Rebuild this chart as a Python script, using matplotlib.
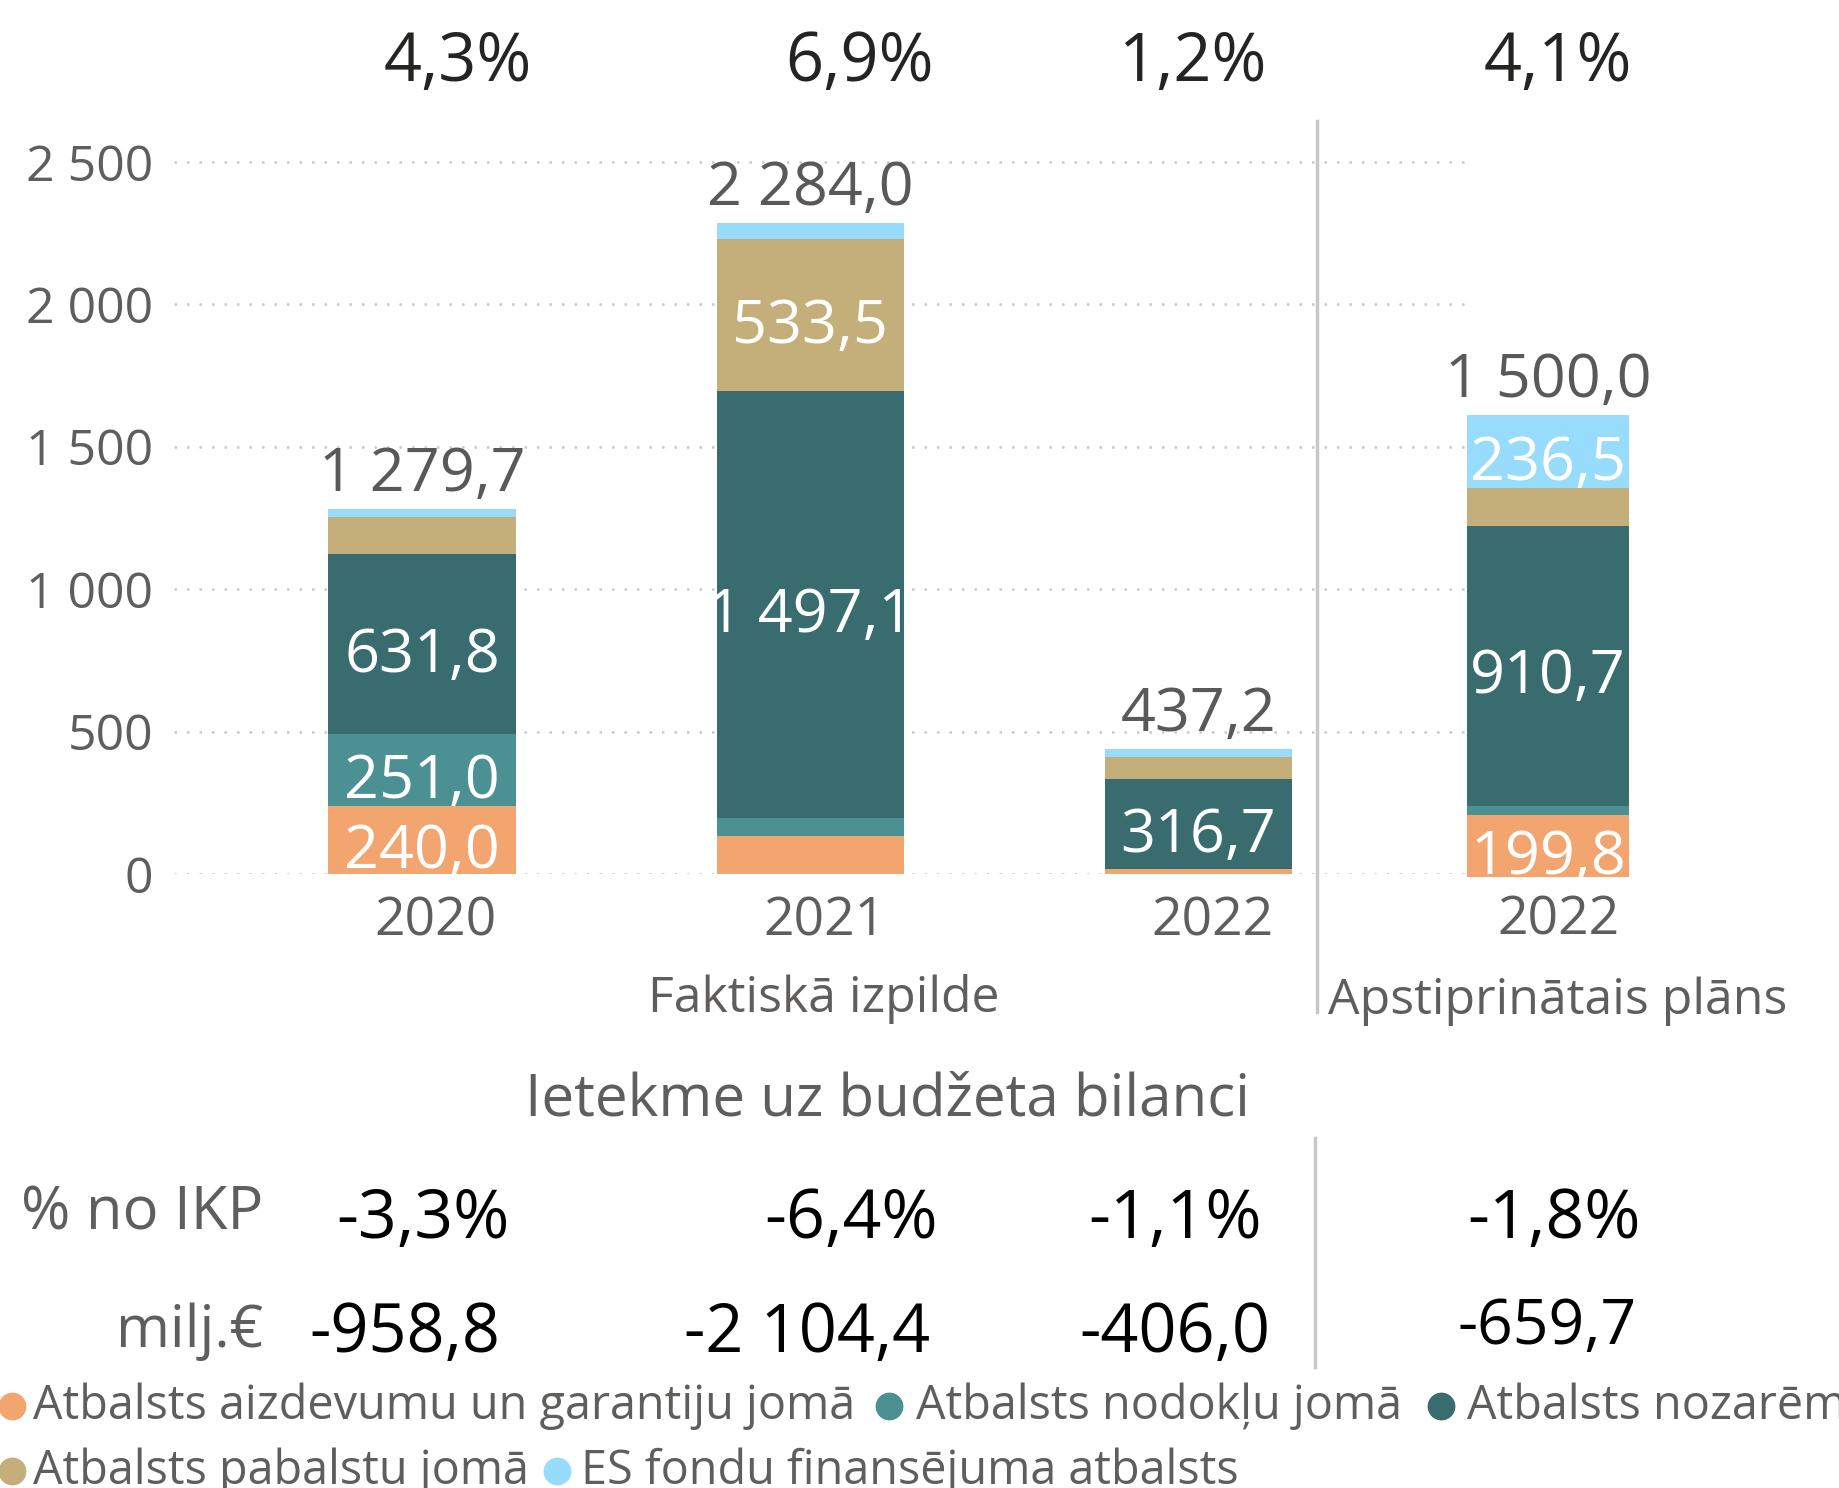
import matplotlib
matplotlib.use("Agg")
import matplotlib.pyplot as plt

plt.rcParams['font.family'] = ['Open Sans', 'DejaVu Sans']

# data
years = ['2020', '2021', '2022']
plan_year = '2022'
series = ['Atbalsts aizdevumu un garantiju jomā', 'Atbalsts nodokļu jomā',
          'Atbalsts nozarēm', 'Atbalsts pabalstu jomā', 'ES fondu finansējuma atbalsts']
colors = ['#F3A56F', '#4B9194', '#386C6E', '#C4AF7B', '#97DCFC']

loans = [240.0, 135.0, 16.5]
taxes = [251.0, 62.0, 1.0]
sectors = [631.8, 1497.1, 316.7]
benefits = [128.9, 533.5, 77.0]
eu_funds = [28.0, 56.4, 26.0]
totals = [1279.7, 2284.0, 437.2]

plan_values = [199.8, 31.0, 910.7, 122.0, 236.5]
plan_total = 1500.0

gdp_share = [4.3, 6.9, 1.2, 4.1]
balance_pct = [-3.3, -6.4, -1.1, -1.8]
balance_eur = [-958.8, -2104.4, -406.0, -659.7]
yticks = [0, 500, 1000, 1500, 2000, 2500]


def fmt(v, d=1):
    return f"{v:,.{d}f}".replace(",", " ").replace(".", ",")


W, H = 1840, 1488
def fa(l, t, r, b):
    return [l / W, 1 - b / H, (r - l) / W, (b - t) / H]

fig = plt.figure(figsize=(W / 100, H / 100), dpi=100)
fig.patch.set_facecolor('white')

GRAY = '#605E5C'
DARK = '#252423'

# actual execution bars
ax = fig.add_axes(fa(174, 120, 1467, 874))
x = [0, 1, 2]
bw = 0.484
bottom = [0, 0, 0]
for vals, c in zip([loans, taxes, sectors, benefits, eu_funds], colors):
    ax.bar(x, vals, bw, bottom=bottom, color=c, zorder=2)
    for i, v in enumerate(vals):
        if v > 150:
            ax.annotate(fmt(v), (x[i], bottom[i] + v / 2), xytext=(0, -8.5),
                        textcoords='offset points', ha='center', va='center',
                        color='white', fontsize=44, annotation_clip=False,
                        clip_on=True, zorder=3)
    bottom = [b + v for b, v in zip(bottom, vals)]
for i, t in enumerate(totals):
    ax.annotate(fmt(t), (x[i], t), xytext=(0, 25), textcoords='offset points',
                ha='center', va='center', color='#595959', fontsize=44)

ax.set_xlim(-0.64, 2.692)
ax.set_ylim(0, 2647)
ax.set_yticks(yticks)
ax.set_yticklabels([fmt(v, 0) for v in yticks], color=GRAY, fontsize=36)
ax.set_xticks([i + 0.035 for i in x])
ax.set_xticklabels(years, color=GRAY, fontsize=38.5)
ax.tick_params(length=0)
ax.tick_params(axis='y', pad=15)
ax.tick_params(axis='x', pad=15)
ax.grid(axis='y', color='#C8C8C8', linestyle=(0, (1, 4)), linewidth=1.8)
ax.set_axisbelow(True)
for s in ax.spines.values():
    s.set_visible(False)
ax.patch.set_alpha(0)

# approved plan bar (own scale)
ax2 = fig.add_axes(fa(1330, 120, 1766, 876.6))
ax2.set_xlim(-1, 1)
ax2.set_ylim(0, 2461)
b = 0
for v, c in zip(plan_values, colors):
    ax2.bar([0], [v], 0.743, bottom=b, color=c)
    if v > 150:
        ax2.annotate(fmt(v), (0, b + v / 2), xytext=(0, -8.5),
                     textcoords='offset points', ha='center', va='center',
                     color='white', fontsize=44, annotation_clip=False, clip_on=True)
    b += v
ax2.annotate(fmt(plan_total), (0, b), xytext=(0, 25), textcoords='offset points',
             ha='center', va='center', color='#595959', fontsize=44)
ax2.axis('off')

# overlay in pixel coordinates for the rest
ov = fig.add_axes([0, 0, 1, 1])
ov.set_xlim(0, W)
ov.set_ylim(H, 0)
ov.axis('off')

ov.plot([1317, 1317], [121, 1012], color='#C8C8C8', lw=2.5)
ov.plot([1315, 1315], [1138, 1367], color='#C8C8C8', lw=2.5)

for xp, v in zip([458, 860, 1192, 1558], gdp_share):
    ov.text(xp, 63, fmt(v) + '%', ha='center', va='center', fontsize=48, color=DARK)

ov.text(1558, 921, plan_year, ha='center', va='center', fontsize=38.5, color=GRAY)
ov.text(824, 999, 'Faktiskā izpilde', ha='center', va='center', fontsize=36, color=GRAY)
ov.text(1558, 1001, 'Apstiprinātais plāns', ha='center', va='center', fontsize=36, color=GRAY)

ov.text(888, 1100, 'Ietekme uz budžeta bilanci', ha='center', va='center', fontsize=42, color=GRAY)
ov.text(263, 1214, '% no IKP', ha='right', va='center', fontsize=43, color=GRAY)
ov.text(263, 1332, 'milj.€', ha='right', va='center', fontsize=42, color=GRAY)
for xp, v in zip([423, 851, 1175, 1554], balance_pct):
    ov.text(xp, 1220, fmt(v) + '%', ha='center', va='center', fontsize=49, color='black')
for xp, v, fs in zip([405, 807, 1175, 1547], balance_eur, [48, 48, 48, 45]):
    ov.text(xp, 1334 if fs == 48 else 1328, fmt(v), ha='center', va='center',
            fontsize=fs, color='black')

# legend
leg_pos = [(12, 33, 1406), (889, 916, 1406), (1441, 1467, 1406), (12, 33, 1471), (557, 581, 1471)]
for (mx, tx, ly), name, c in zip(leg_pos, series, colors):
    ov.plot(mx, ly, 'o', ms=19, color=c, clip_on=False)
    ov.text(tx, ly, name, ha='left', va='center', fontsize=33.7, color=GRAY)

fig.savefig('out.png', dpi=100)
